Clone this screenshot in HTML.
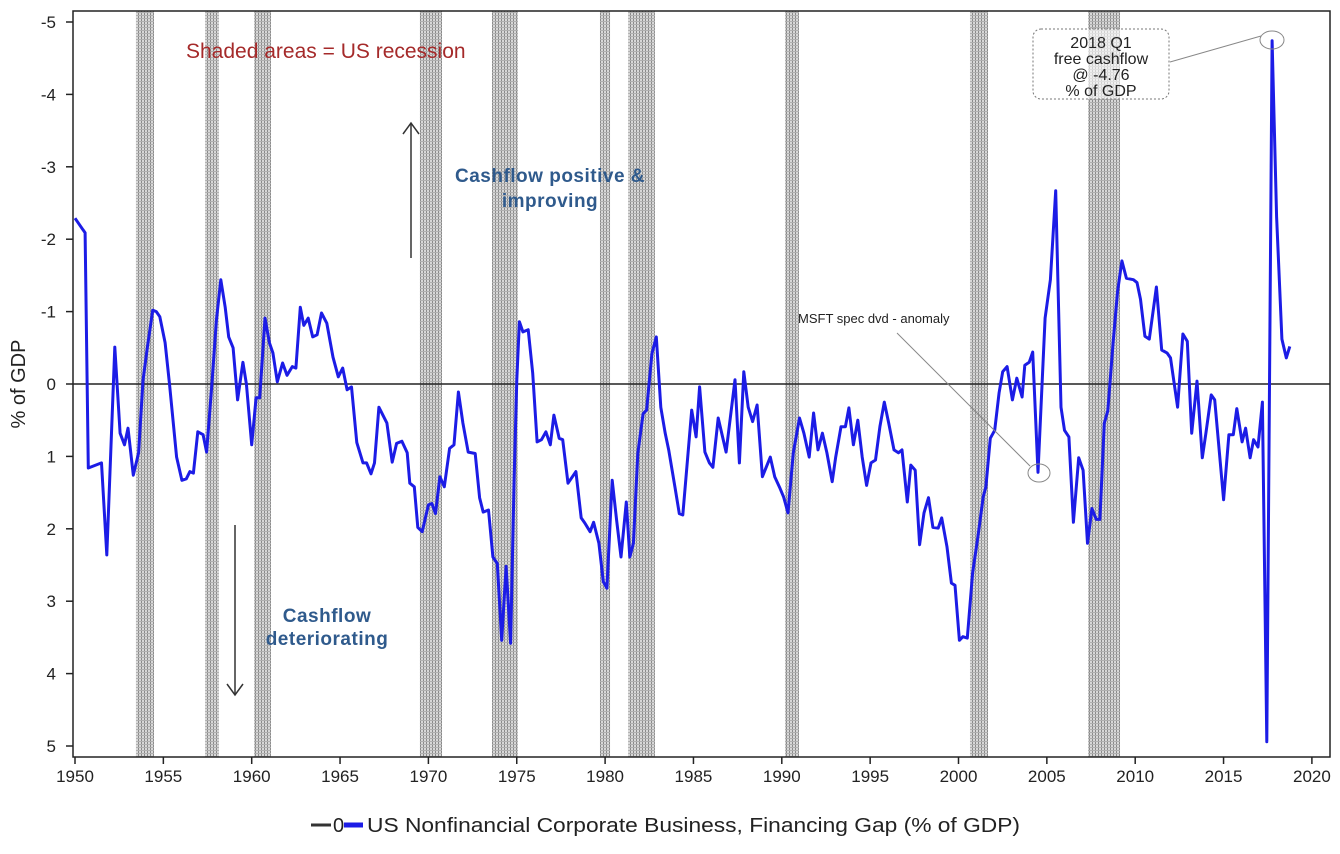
<!DOCTYPE html>
<html><head><meta charset="utf-8">
<style>
body{margin:0;background:#fff;}
svg{display:block;font-family:"Liberation Sans",Arial,sans-serif;}
</style></head>
<body>
<svg id="chart" width="1340" height="854" viewBox="0 0 1340 854" xmlns="http://www.w3.org/2000/svg">
<defs>
<pattern id="hatch" width="3" height="3" patternUnits="userSpaceOnUse">
<rect width="3" height="3" fill="#d8d8d8"/>
<rect x="0" width="1" height="3" fill="#8a8a8a"/>
<rect y="0" width="3" height="1" fill="#b0b0b0"/>
</pattern>
</defs>
<g id="bands"></g>
<g id="grid"></g>
<line id="zero" stroke="#222" stroke-width="1.5"/>
<path id="series" fill="none" stroke="#1c1ce6" stroke-width="3" stroke-linejoin="round"/>
<rect x="73" y="11" width="1257" height="746" fill="none" stroke="#222" stroke-width="1.5"/>
<g id="yticks"></g>
<g id="xticks"></g>
<text transform="translate(25,384) rotate(-90)" text-anchor="middle" font-size="20" fill="#222">% of GDP</text>
<text x="186" y="58" font-size="21" fill="#a52a2a">Shaded areas = US recession</text>
<g stroke="#333" stroke-width="1.5" fill="none">
<line x1="411" y1="258" x2="411" y2="123"/><polyline points="403,134 411,123 419,134"/></g>
<text font-size="19" font-weight="bold" fill="#2f5a8c" text-anchor="middle" letter-spacing="0.5"><tspan x="550" y="182">Cashflow positive &amp;</tspan><tspan x="550" y="207">improving</tspan></text>
<g stroke="#333" stroke-width="1.5" fill="none">
<line x1="235" y1="525" x2="235" y2="695"/><polyline points="227,684 235,695 243,684"/></g>
<text font-size="19" font-weight="bold" fill="#2f5a8c" text-anchor="middle" letter-spacing="0.5"><tspan x="327" y="622">Cashflow</tspan><tspan x="327" y="645">deteriorating</tspan></text>
<text x="798" y="323" font-size="13" fill="#222">MSFT spec dvd - anomaly</text>
<line x1="897" y1="333" x2="1030" y2="466" stroke="#888" stroke-width="1"/>
<ellipse cx="1039" cy="473" rx="11" ry="9" fill="none" stroke="#888" stroke-width="1"/>
<rect x="1033" y="29" width="136" height="70" rx="8" fill="#fff" fill-opacity="0.6" stroke="#777" stroke-dasharray="2,2"/>
<text font-size="16" fill="#222" text-anchor="middle"><tspan x="1101" y="48">2018 Q1</tspan><tspan x="1101" y="64">free cashflow</tspan><tspan x="1101" y="80">@ -4.76</tspan><tspan x="1101" y="96">% of GDP</tspan></text>
<line x1="1170" y1="62" x2="1261" y2="36" stroke="#888" stroke-width="1"/>
<ellipse cx="1272" cy="40" rx="12" ry="9" fill="none" stroke="#888" stroke-width="1"/>
<g>
<line x1="311" y1="825" x2="331" y2="825" stroke="#333" stroke-width="3"/>
<text x="333" y="832" font-size="20" fill="#222">0</text>
<line x1="344" y1="825" x2="363" y2="825" stroke="#1c1ce6" stroke-width="5"/>
<text x="367" y="832" font-size="20" fill="#222" textLength="653" lengthAdjust="spacingAndGlyphs">US Nonfinancial Corporate Business, Financing Gap (% of GDP)</text>
</g>
</svg>
<script>
const years=[1950.0,1950.45,1950.57,1950.75,1951.5,1951.8,1952.25,1952.55,1952.8,1953.0,1953.3,1953.6,1953.85,1954.1,1954.4,1954.6,1954.8,1955.1,1955.35,1955.75,1956.05,1956.3,1956.5,1956.7,1956.95,1957.25,1957.45,1957.75,1958.0,1958.25,1958.5,1958.7,1958.95,1959.2,1959.5,1959.7,1960.0,1960.25,1960.45,1960.75,1961.0,1961.2,1961.45,1961.75,1962.0,1962.3,1962.5,1962.75,1962.95,1963.2,1963.45,1963.7,1963.95,1964.25,1964.6,1964.9,1965.15,1965.4,1965.65,1965.95,1966.3,1966.5,1966.75,1966.95,1967.2,1967.65,1967.95,1968.2,1968.5,1968.8,1968.95,1969.2,1969.4,1969.65,1970.0,1970.2,1970.4,1970.65,1970.9,1971.2,1971.45,1971.7,1971.95,1972.25,1972.65,1972.9,1973.1,1973.4,1973.65,1973.9,1974.15,1974.4,1974.65,1974.85,1975.0,1975.15,1975.35,1975.65,1975.9,1976.15,1976.4,1976.65,1976.9,1977.1,1977.4,1977.6,1977.9,1978.35,1978.65,1978.85,1979.15,1979.35,1979.65,1979.9,1980.1,1980.4,1980.65,1980.9,1981.2,1981.4,1981.6,1981.85,1982.15,1982.35,1982.65,1982.9,1983.15,1983.4,1983.6,1983.95,1984.2,1984.4,1984.9,1985.15,1985.35,1985.65,1985.9,1986.1,1986.4,1986.85,1987.35,1987.6,1987.85,1988.1,1988.35,1988.6,1988.9,1989.35,1989.6,1989.9,1990.1,1990.35,1990.65,1991.0,1991.25,1991.55,1991.8,1992.05,1992.3,1992.55,1992.85,1993.05,1993.35,1993.6,1993.8,1994.05,1994.3,1994.55,1994.8,1995.05,1995.3,1995.55,1995.8,1996.05,1996.35,1996.6,1996.8,1997.1,1997.3,1997.55,1997.8,1998.05,1998.3,1998.55,1998.85,1999.05,1999.35,1999.6,1999.8,2000.05,2000.25,2000.5,2000.8,2001.1,2001.4,2001.55,2001.8,2002.05,2002.3,2002.5,2002.75,2003.05,2003.3,2003.6,2003.75,2004.0,2004.2,2004.5,2004.9,2005.2,2005.5,2005.8,2006.0,2006.25,2006.5,2006.8,2007.05,2007.3,2007.55,2007.8,2008.0,2008.25,2008.45,2008.75,2009.0,2009.25,2009.5,2009.9,2010.1,2010.3,2010.55,2010.8,2011.2,2011.5,2011.8,2012.0,2012.4,2012.7,2012.95,2013.2,2013.5,2013.8,2014.0,2014.3,2014.5,2015.0,2015.3,2015.55,2015.75,2016.05,2016.25,2016.5,2016.7,2016.95,2017.2,2017.45,2017.75,2018.0,2018.3,2018.55,2018.75];
const values=[-2.29,-2.13,-2.09,1.16,1.09,2.36,-0.51,0.68,0.84,0.61,1.26,0.95,-0.05,-0.51,-1.02,-1.0,-0.93,-0.57,0,1.01,1.33,1.31,1.21,1.23,0.66,0.70,0.94,0,-0.88,-1.44,-1.06,-0.65,-0.5,0.22,-0.3,0,0.84,0.19,0.19,-0.91,-0.57,-0.43,-0.03,-0.29,-0.12,-0.24,-0.22,-1.06,-0.81,-0.91,-0.65,-0.68,-0.98,-0.84,-0.37,-0.1,-0.22,0.08,0.04,0.81,1.09,1.09,1.24,1.09,0.32,0.54,1.08,0.82,0.79,0.95,1.37,1.42,1.98,2.04,1.67,1.65,1.79,1.28,1.42,0.89,0.84,0.11,0.54,0.94,0.96,1.57,1.77,1.74,2.39,2.48,3.54,2.52,3.58,1.33,-0.06,-0.86,-0.72,-0.75,-0.15,0.80,0.77,0.66,0.84,0.43,0.75,0.77,1.37,1.21,1.85,1.92,2.04,1.91,2.20,2.73,2.82,1.33,1.88,2.39,1.63,2.39,2.20,0.96,0.41,0.36,-0.42,-0.65,0.32,0.68,0.91,1.42,1.79,1.81,0.36,0.73,0.04,0.94,1.09,1.15,0.47,0.94,-0.06,1.09,-0.17,0.32,0.52,0.29,1.28,1.01,1.28,1.44,1.56,1.78,0.95,0.47,0.68,1.01,0.40,0.91,0.68,0.95,1.35,1.01,0.59,0.59,0.33,0.84,0.50,1.01,1.40,1.09,1.05,0.59,0.25,0.54,0.91,0.95,0.91,1.63,1.12,1.19,2.22,1.78,1.57,1.98,1.99,1.85,2.25,2.75,2.78,3.54,3.49,3.51,2.61,2.11,1.56,1.42,0.75,0.64,0.12,-0.17,-0.24,0.22,-0.08,0.18,-0.26,-0.30,-0.44,1.22,-0.91,-1.44,-2.67,0.32,0.64,0.73,1.91,1.02,1.19,2.20,1.72,1.87,1.87,0.54,0.37,-0.57,-1.27,-1.70,-1.46,-1.44,-1.40,-1.17,-0.66,-0.62,-1.34,-0.47,-0.43,-0.36,0.32,-0.69,-0.59,0.68,-0.04,1.02,0.68,0.15,0.22,1.60,0.70,0.70,0.34,0.80,0.61,1.02,0.77,0.87,0.25,4.94,-4.74,-2.31,-0.62,-0.36,-0.52];
const recStart=[1953.45,1957.36,1960.13,1969.52,1973.6,1979.71,1981.3,1990.18,2000.65,2007.33];
const recEnd=[1954.47,1958.15,1961.09,1970.77,1975.07,1980.28,1982.82,1990.97,2001.67,2009.14];
const yTicks=[-5,-4,-3,-2,-1,0,1,2,3,4,5];
const xTicks=[1950,1955,1960,1965,1970,1975,1980,1985,1990,1995,2000,2005,2010,2015,2020];
const NS='http://www.w3.org/2000/svg';
function sx(y){return 75+(y-1950)*17.67;}
function sy(v){return 384+v*72.4;}
function mk(tag,attrs,parent){const e=document.createElementNS(NS,tag);for(const k in attrs)e.setAttribute(k,attrs[k]);parent.appendChild(e);return e;}
const bands=document.getElementById('bands');
recStart.forEach((s,i)=>{const r=mk('rect',{x:sx(s),y:11,width:sx(recEnd[i])-sx(s),height:746,fill:'url(#hatch)'},bands);

});
const z=document.getElementById('zero');
z.setAttribute('x1',73);z.setAttribute('x2',1330);z.setAttribute('y1',sy(0));z.setAttribute('y2',sy(0));
let d='';years.forEach((y,i)=>{d+=(i?'L':'M')+sx(y).toFixed(1)+','+sy(values[i]).toFixed(1);});
document.getElementById('series').setAttribute('d',d);
const yt=document.getElementById('yticks');
yTicks.forEach(v=>{mk('line',{x1:66,x2:73,y1:sy(v),y2:sy(v),stroke:'#222','stroke-width':1.5},yt);
const t=mk('text',{x:56,y:sy(v)+6,'text-anchor':'end','font-size':17,fill:'#222'},yt);t.textContent=v;

});
const xt=document.getElementById('xticks');
xTicks.forEach(v=>{mk('line',{x1:sx(v),x2:sx(v),y1:757,y2:764,stroke:'#222','stroke-width':1.5},xt);
const t=mk('text',{x:sx(v),y:782,'text-anchor':'middle','font-size':17,fill:'#222'},xt);t.textContent=v;

});
</script>
</body></html>
